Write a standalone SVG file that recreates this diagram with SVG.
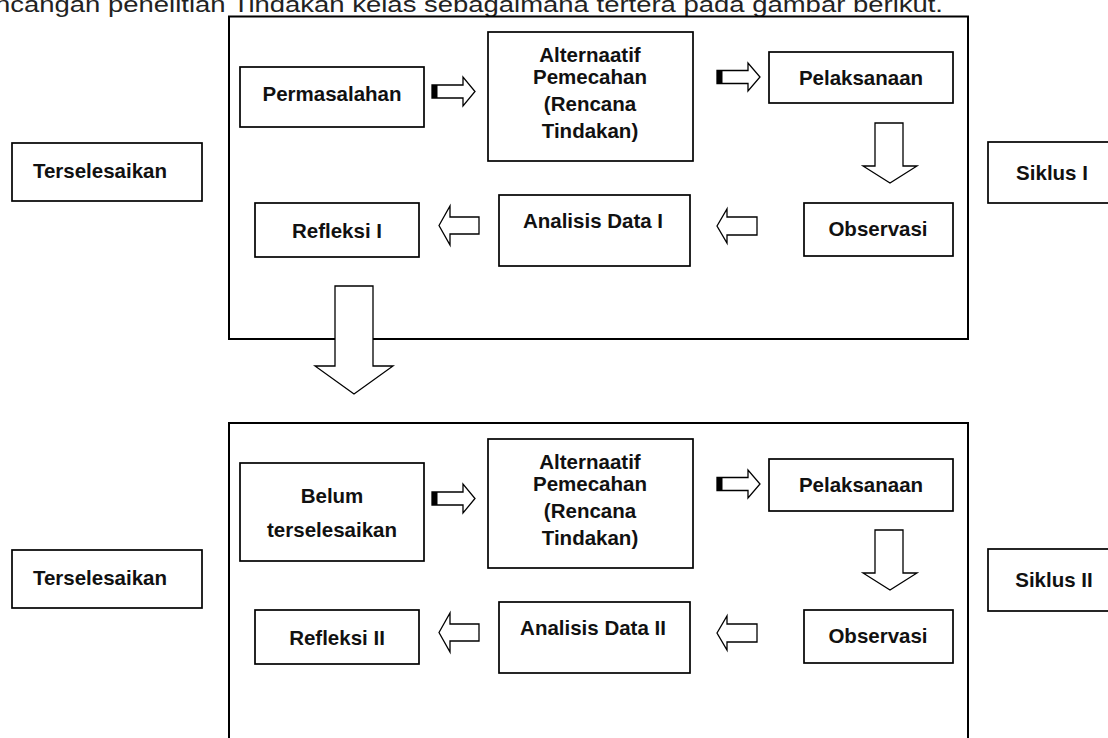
<svg xmlns="http://www.w3.org/2000/svg" width="1108" height="738" viewBox="0 0 1108 738">
<style>
.bg{fill:#fff}
.frame{fill:none;stroke:#000;stroke-width:2}
.box{fill:#fff;stroke:#000;stroke-width:1.7}
.lbl{font-family:"Liberation Sans",Arial,sans-serif;font-weight:bold;font-size:20.5px;text-anchor:middle;fill:#111}
.cap{font-family:"Liberation Sans",Arial,sans-serif;font-size:22px;fill:#222}
.arrow{fill:#fff;stroke:#000;stroke-width:1.3;stroke-linejoin:miter}
.blk{fill:#000}
</style>
<rect class="bg" x="0" y="0" width="1108" height="738"/>
<text class="cap" x="-5" y="12" textLength="948" lengthAdjust="spacingAndGlyphs">ncangan penelitian Tindakan kelas sebagaimana tertera pada gambar berikut.</text>

<g id="siklus1-frame"><rect class="frame" x="229" y="16.5" width="739" height="322.5"/></g>
<g id="siklus2-frame"><rect class="frame" x="229" y="423" width="739" height="340"/></g>

<g id="terselesaikan1"><rect class="box" x="12" y="143" width="190" height="58"/><text class="lbl" x="100" y="178">Terselesaikan</text></g>
<g id="permasalahan"><rect class="box" x="240" y="67" width="184" height="60"/><text class="lbl" x="332" y="101">Permasalahan</text></g>
<g id="alternatif1"><rect class="box" x="488" y="32" width="205" height="129"/>
<text class="lbl" x="590" y="62">Alternaatif</text><text class="lbl" x="590" y="84">Pemecahan</text><text class="lbl" x="590" y="111">(Rencana</text><text class="lbl" x="590" y="138">Tindakan)</text></g>
<g id="pelaksanaan1"><rect class="box" x="769" y="52" width="184" height="51"/><text class="lbl" x="861" y="85">Pelaksanaan</text></g>
<g id="observasi1"><rect class="box" x="804" y="203" width="149" height="53"/><text class="lbl" x="878" y="236">Observasi</text></g>
<g id="analisis1"><rect class="box" x="499" y="195" width="191" height="71"/><text class="lbl" x="593" y="228">Analisis Data I</text></g>
<g id="refleksi1"><rect class="box" x="255" y="203" width="164" height="54"/><text class="lbl" x="337" y="238">Refleksi I</text></g>
<g id="siklus1"><rect class="box" x="988" y="142" width="140" height="61"/><text class="lbl" x="1052" y="180">Siklus I</text></g>

<g id="terselesaikan2"><rect class="box" x="12" y="550" width="190" height="58"/><text class="lbl" x="100" y="585">Terselesaikan</text></g>
<g id="belum"><rect class="box" x="240" y="463" width="184" height="98"/><text class="lbl" x="332" y="503">Belum</text><text class="lbl" x="332" y="537">terselesaikan</text></g>
<g id="alternatif2"><rect class="box" x="488" y="439" width="205" height="129"/>
<text class="lbl" x="590" y="469">Alternaatif</text><text class="lbl" x="590" y="491">Pemecahan</text><text class="lbl" x="590" y="518">(Rencana</text><text class="lbl" x="590" y="545">Tindakan)</text></g>
<g id="pelaksanaan2"><rect class="box" x="769" y="459" width="184" height="52"/><text class="lbl" x="861" y="492">Pelaksanaan</text></g>
<g id="observasi2"><rect class="box" x="804" y="610" width="149" height="53"/><text class="lbl" x="878" y="643">Observasi</text></g>
<g id="analisis2"><rect class="box" x="499" y="602" width="191" height="71"/><text class="lbl" x="593" y="635">Analisis Data II</text></g>
<g id="refleksi2"><rect class="box" x="255" y="610" width="164" height="54"/><text class="lbl" x="337" y="645">Refleksi II</text></g>
<g id="siklus2"><rect class="box" x="988" y="549" width="140" height="62"/><text class="lbl" x="1054" y="587">Siklus II</text></g>

<g id="connectors">
<polygon class="arrow" points="432,85 463,85 463,77 475,91.5 463,106 463,98 432,98"/><rect class="blk" x="432" y="85" width="5.5" height="13"/>
<polygon class="arrow" points="717,70.5 748,70.5 748,63 760,77 748,91 748,83.5 717,83.5"/><rect class="blk" x="717" y="70.5" width="5.5" height="13"/>
<polygon class="arrow" points="875,123 903,123 903,166 917,166 890,183 863,166 875,166"/>
<polygon class="arrow" points="717,226 727,209 727,217 757,217 757,235 727,235 727,243"/>
<polygon class="arrow" points="439,225.5 450,206 450,217 479,217 479,234 450,234 450,245"/>
<polygon class="arrow" points="335,286 373,286 373,366 393,366 354,394 315,366 335,366"/>

<polygon class="arrow" points="432,492 463,492 463,484 475,498.5 463,513 463,505 432,505"/><rect class="blk" x="432" y="492" width="5.5" height="13"/>
<polygon class="arrow" points="717,477.5 748,477.5 748,470 760,484 748,498 748,490.5 717,490.5"/><rect class="blk" x="717" y="477.5" width="5.5" height="13"/>
<polygon class="arrow" points="875,530 903,530 903,573 917,573 890,590 863,573 875,573"/>
<polygon class="arrow" points="717,633 727,616 727,624 757,624 757,642 727,642 727,650"/>
<polygon class="arrow" points="439,632.5 450,613 450,624 479,624 479,641 450,641 450,652"/>
</g>
</svg>
